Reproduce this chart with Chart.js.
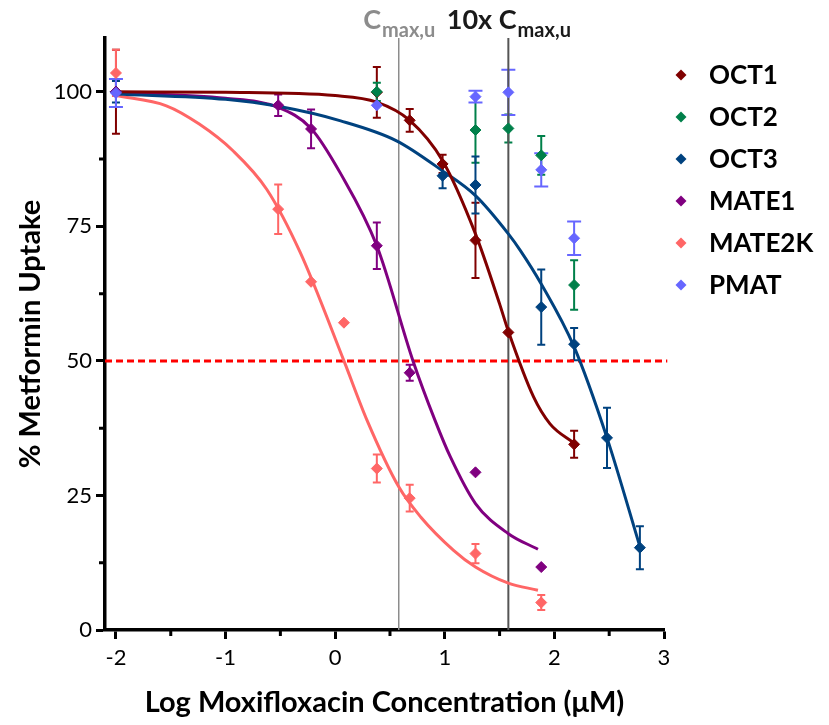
<!DOCTYPE html>
<html>
<head>
<meta charset="utf-8">
<script src="https://cdn.jsdelivr.net/npm/chart.js@4.4.0/dist/chart.umd.min.js"></script>
<style>
  body { margin: 0; background: #fff; }
  canvas { display: block; }
</style>
</head>
<body>
<canvas id="uptake-chart" width="829" height="725"></canvas>
<script>
// Measured points (log uM, % uptake, +/- error)
const oct1X = [-2, 0.38, 0.68, 0.98, 1.28, 1.58, 2.18];
const oct1Y = [100, 99.9, 94.7, 86.6, 72.4, 55.3, 34.5];
const oct1Err = [7.8, 4.7, 2.1, 1.7, 7, 0, 2.5];

const oct2X = [-2, 0.38, 1.28, 1.58, 1.88, 2.18];
const oct2Y = [100, 100, 92.9, 93.2, 88.2, 64.1];
const oct2Err = [0, 1.7, 6.1, 2.6, 3.6, 4.6];

const oct3X = [-2, 0.98, 1.28, 1.88, 2.18, 2.48, 2.78];
const oct3Y = [100, 84.4, 82.7, 60.0, 53.1, 35.7, 15.3];
const oct3Err = [2, 2.3, 5.3, 7, 3, 5.6, 4];

const mate1X = [-2, -0.52, -0.22, 0.38, 0.68, 1.28, 1.88];
const mate1Y = [100, 97.5, 93.1, 71.4, 47.8, 29.3, 11.7];
const mate1Err = [0, 2, 3.6, 4.3, 1.5, 0, 0];

const mate2kX = [-2, -0.52, -0.22, 0.08, 0.38, 0.68, 1.28, 1.88];
const mate2kY = [103.5, 78.2, 64.7, 57.1, 30.0, 24.5, 14.2, 5.1];
const mate2kErr = [4.3, 4.6, 0, 0, 2.6, 2.5, 1.8, 1.4];

const pmatX = [-2, 0.38, 1.28, 1.58, 1.88, 2.18];
const pmatY = [99.8, 97.5, 99.1, 99.9, 85.5, 72.8];
const pmatErr = [2.6, 0, 1.1, 4.2, 3.1, 3.1];

// Fitted curves
const oct1FitX = [-2, -1, 0, 0.38, 0.68, 0.98, 1.28, 1.5, 1.58, 1.81, 1.96, 2.18];
const oct1FitY = [100, 99.9, 99.3, 98.1, 94.7, 87.2, 73.6, 60.6, 55.5, 43.3, 38.3, 34.7];

const oct3FitX = [-2, -1, -0.52, 0.05, 0.56, 0.98, 1.28, 1.58, 1.69, 1.88, 2.18, 2.48, 2.78];
const oct3FitY = [99.6, 98.6, 97.3, 94.6, 90.9, 85.3, 80.7, 73.6, 70.5, 64.3, 52.6, 35.7, 15.5];

const mate1FitX = [-2, -1, -0.52, -0.22, 0.05, 0.38, 0.71, 0.91, 1.05, 1.28, 1.58, 1.85];
const mate1FitY = [99.8, 98.8, 97.1, 93.2, 84.8, 71.4, 50, 39.0, 32.2, 23.5, 17.9, 15.0];

const mate2kFitX = [-2, -1.54, -1.24, -0.93, -0.625, -0.32, 0.08, 0.29, 0.58, 0.78, 1.08, 1.28, 1.58, 1.85];
const mate2kFitY = [99.3, 97.4, 94, 89, 81.9, 70.2, 50, 39, 26.6, 21, 14.8, 11.7, 8.7, 7.4];

// Axes and reference lines
const xMin = -2.1, xMax = 3;
const yMin = 0, yMax = 110;
const xTickVals = [-2, -1, 0, 1, 2, 3];
const xMinorVals = [-1.5, -0.5, 0.5, 1.5, 2.5];
const yTickVals = [0, 25, 50, 75, 100];
const yMinorVals = [12.5, 37.5, 62.5, 87.5];
const halfLine = 50;
const cmaxLog = 0.58;
const cmax10Log = 1.58;

const FONT = 'Lato, "Open Sans", sans-serif';

const series = [
    { name: 'OCT1', x: oct1X, y: oct1Y, err: oct1Err, fitX: oct1FitX, fitY: oct1FitY, color: '#800000', cap: 4 },
    { name: 'OCT2', x: oct2X, y: oct2Y, err: oct2Err, color: '#00804a', cap: 4 },
    { name: 'OCT3', x: oct3X, y: oct3Y, err: oct3Err, fitX: oct3FitX, fitY: oct3FitY, color: '#00427f', cap: 4 },
    { name: 'MATE1', x: mate1X, y: mate1Y, err: mate1Err, fitX: mate1FitX, fitY: mate1FitY, color: '#800080', cap: 4 },
    { name: 'MATE2K', x: mate2kX, y: mate2kY, err: mate2kErr, fitX: mate2kFitX, fitY: mate2kFitY, color: '#ff6666', cap: 4 },
    { name: 'PMAT', x: pmatX, y: pmatY, err: pmatErr, color: '#6666ff', cap: 7 }
];

function toPoints(xs, ys) {
    return xs.map((x, i) => ({ x: x, y: ys[i] }));
}

const datasets = [];

// points on top, later series above earlier ones
series.forEach((s, i) => {
    datasets.push({
        type: 'scatter',
        label: s.name,
        data: toPoints(s.x, s.y),
        pointStyle: 'rectRot',
        pointRadius: 5.5,
        pointBorderWidth: 1,
        backgroundColor: s.color,
        borderColor: s.color,
        order: (series.length - i) * 0.1
    });
});

// fitted curves
series.filter(s => s.fitX).forEach(s => {
    datasets.push({
        type: 'line',
        label: s.name + ' fit',
        data: toPoints(s.fitX, s.fitY),
        borderColor: s.color,
        borderWidth: 3,
        pointRadius: 0,
        cubicInterpolationMode: 'monotone',
        fill: false,
        order: 1
    });
});

// reference lines
datasets.push({
    type: 'line',
    label: 'IC50',
    data: [{ x: xMin, y: halfLine }, { x: xMax + 0.03, y: halfLine }],
    borderColor: '#ff0000',
    borderWidth: 3,
    borderDash: [7, 4],
    pointRadius: 0,
    clip: false,
    order: 2
});
datasets.push({
    type: 'line',
    label: 'Cmax',
    data: [{ x: cmaxLog, y: yMin }, { x: cmaxLog, y: yMax }],
    borderColor: '#8c8c8c',
    borderWidth: 1.5,
    pointRadius: 0,
    order: 2
});
datasets.push({
    type: 'line',
    label: '10x Cmax',
    data: [{ x: cmax10Log, y: yMin }, { x: cmax10Log, y: yMax }],
    borderColor: '#555555',
    borderWidth: 2,
    pointRadius: 0,
    order: 2
});

// error bars under the markers
const errorBars = {
    id: 'errorBars',
    beforeDatasetsDraw(chart) {
        const ctx = chart.ctx;
        const xs = chart.scales.x, ys = chart.scales.y;
        ctx.save();
        series.forEach(s => {
            ctx.strokeStyle = s.color;
            ctx.lineWidth = 2;
            s.x.forEach((xv, i) => {
                if (!s.err[i]) return;
                const px = xs.getPixelForValue(xv);
                const top = ys.getPixelForValue(s.y[i] + s.err[i]);
                const bot = ys.getPixelForValue(s.y[i] - s.err[i]);
                ctx.beginPath();
                ctx.moveTo(px, top); ctx.lineTo(px, bot);
                ctx.moveTo(px - s.cap, top); ctx.lineTo(px + s.cap, top);
                ctx.moveTo(px - s.cap, bot); ctx.lineTo(px + s.cap, bot);
                ctx.stroke();
            });
        });
        ctx.restore();
    }
};

// minor ticks, Cmax labels, legend
const extras = {
    id: 'extras',
    afterDraw(chart) {
        const ctx = chart.ctx;
        const xs = chart.scales.x, ys = chart.scales.y;
        const area = chart.chartArea;
        ctx.save();
        ctx.strokeStyle = '#000';
        ctx.lineWidth = 3;
        ctx.beginPath();
        xMinorVals.forEach(v => {
            const px = xs.getPixelForValue(v);
            ctx.moveTo(px, area.bottom); ctx.lineTo(px, area.bottom + 6);
        });
        yMinorVals.forEach(v => {
            const py = ys.getPixelForValue(v);
            ctx.moveTo(area.left, py); ctx.lineTo(area.left - 6, py);
        });
        ctx.stroke();

        // C max,u labels
        function cmaxLabel(prefix, xv, color) {
            const big = 'bold 27px ' + FONT, small = 'bold 20px ' + FONT;
            ctx.font = big;
            const w1 = ctx.measureText(prefix + 'C').width;
            ctx.font = small;
            const w2 = ctx.measureText('max,u').width;
            let x0 = xs.getPixelForValue(xv) - (w1 + w2) / 2;
            ctx.fillStyle = color;
            ctx.textBaseline = 'alphabetic';
            ctx.textAlign = 'left';
            ctx.font = big;
            ctx.fillText(prefix + 'C', x0, 29);
            ctx.font = small;
            ctx.fillText('max,u', x0 + w1 + 1, 37);
        }
        cmaxLabel('', cmaxLog, '#8c8c8c');
        cmaxLabel('10x ', cmax10Log, '#1a1a1a');

        // legend
        ctx.font = 'bold 26px ' + FONT;
        ctx.textBaseline = 'middle';
        series.forEach((s, i) => {
            const y = 75 + i * 42;
            ctx.fillStyle = s.color;
            ctx.beginPath();
            ctx.moveTo(681, y - 5.5); ctx.lineTo(686.5, y);
            ctx.lineTo(681, y + 5.5); ctx.lineTo(675.5, y);
            ctx.closePath();
            ctx.fill();
            ctx.fillStyle = '#000';
            ctx.fillText(s.name, 709, y + 1);
        });
        ctx.restore();
    }
};

new Chart(document.getElementById('uptake-chart'), {
    type: 'scatter',
    data: { datasets: datasets },
    options: {
        responsive: false,
        animation: false,
        layout: { padding: { left: 0, right: 165, top: 38, bottom: 0 } },
        plugins: { legend: { display: false }, tooltip: { enabled: false } },
        scales: {
            x: {
                type: 'linear',
                min: xMin,
                max: xMax,
                afterFit: s => { s.height = 95; },
                afterBuildTicks: s => { s.ticks = xTickVals.map(v => ({ value: v })); },
                border: { display: true, color: '#000', width: 3.5 },
                grid: { drawOnChartArea: false, drawTicks: true, tickLength: 9, tickWidth: 3, tickColor: '#000' },
                ticks: { color: '#000', padding: 6, font: { family: FONT, size: 22 }, maxRotation: 0 },
                title: {
                    display: true,
                    text: 'Log Moxifloxacin Concentration (\u03bcM)',
                    color: '#000',
                    font: { family: FONT, size: 29, weight: 'bold' },
                    padding: { top: 0, bottom: 5 }
                }
            },
            y: {
                type: 'linear',
                min: yMin,
                max: yMax,
                afterFit: s => { s.width = 105; },
                afterBuildTicks: s => { s.ticks = yTickVals.map(v => ({ value: v })); },
                border: { display: true, color: '#000', width: 3.5 },
                grid: { drawOnChartArea: false, drawTicks: true, tickLength: 9, tickWidth: 3, tickColor: '#000' },
                ticks: { color: '#000', padding: 4, font: { family: FONT, size: 22 } },
                title: {
                    display: true,
                    text: '% Metformin Uptake',
                    color: '#000',
                    font: { family: FONT, size: 29, weight: 'bold' },
                    padding: { top: 13, bottom: 0 }
                }
            }
        }
    },
    plugins: [errorBars, extras]
});
</script>
</body>
</html>
